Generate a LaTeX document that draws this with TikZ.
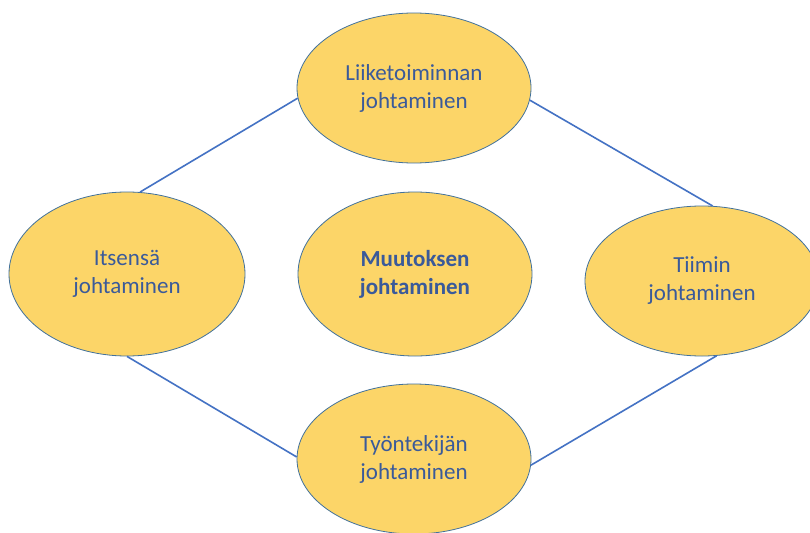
\documentclass[tikz,border=0pt]{standalone}
\usepackage{fontspec}
\setmainfont{Carlito}
\usetikzlibrary{shapes.geometric}
\definecolor{fillyel}{HTML}{FCD568}
\definecolor{edgeblue}{HTML}{41719C}
\definecolor{lineblue}{HTML}{4472C4}
\definecolor{txtblue}{HTML}{3A5A9A}
\tikzset{
  bubble/.style={ellipse, draw=edgeblue, line width=0.8pt, fill=fillyel, inner sep=0pt,
    align=center, text=txtblue, font=\fontsize{23}{28}\selectfont},
  link/.style={draw=lineblue, line width=1.6pt}
}
\begin{document}
\begin{tikzpicture}[x=1pt,y=-1pt]
\useasboundingbox (0,0) rectangle (810,532);
\fill[white] (0,0) rectangle (810,532);
\node[bubble, minimum width=234pt, minimum height=150pt] (top) at (414,88) {Liiketoiminnan\\johtaminen};
\node[bubble, minimum width=236pt, minimum height=164pt] (left) at (127,274) {Itsensä\\johtaminen};
\node[bubble, minimum width=234pt, minimum height=164pt] (mid) at (415,274) {\textbf{Muutoksen}\\\textbf{johtaminen}};
\node[bubble, minimum width=234pt, minimum height=150pt] (right) at (702,281) {Tiimin\\johtaminen};
\node[bubble, minimum width=234pt, minimum height=150pt] (bot) at (414,459) {Työntekijän\\johtaminen};
\draw[link] (left.81) -- (top.185);
\draw[link] (top.354) -- (right.82);
\draw[link] (left.270) -- (bot.179);
\draw[link] (bot.357) -- (right.281);
\end{tikzpicture}
\end{document}
